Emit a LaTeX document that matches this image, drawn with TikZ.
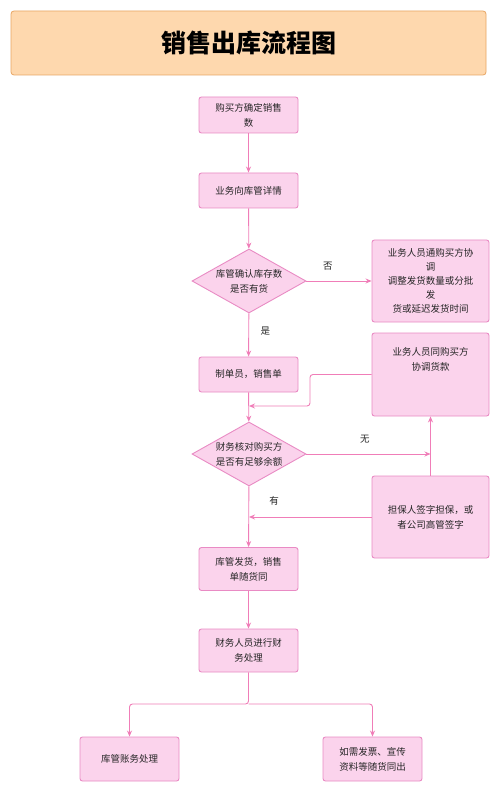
\documentclass[tikz,border=0pt]{standalone}
\usepackage{fontspec}
\setmainfont{Noto Sans CJK SC}
\usetikzlibrary{shapes.geometric,arrows.meta}
\definecolor{boxfill}{RGB}{251,211,236}
\definecolor{boxline}{RGB}{233,139,196}
\definecolor{arrowc}{RGB}{240,125,184}
\definecolor{titlefill}{RGB}{254,216,174}
\definecolor{titleline}{RGB}{232,166,100}
\tikzset{
  proc/.style={draw=boxline, fill=boxfill, line width=0.9pt, rounded corners=2.5pt,
    align=center, inner sep=0pt, font=\fontsize{9.5}{15}\selectfont, text=black!85},
  decide/.style={draw=boxline, fill=boxfill, line width=0.9pt, diamond, shape aspect=1.8,
    minimum width=114pt, minimum height=64pt, inner sep=0pt, align=center,
    font=\fontsize{9.5}{15}\selectfont, text=black!85},
  conn/.style={draw=arrowc, line width=0.9pt, -{Stealth[length=6pt,width=5pt]}},
  lbl/.style={font=\fontsize{9.5}{12}\selectfont, text=black!85}
}
\begin{document}
\begin{tikzpicture}[x=1pt,y=-1pt]
\useasboundingbox (0,0) rectangle (500,791);
\fill[white] (0,0) rectangle (500,791);
% title
\node[draw=titleline, fill=titlefill, line width=0.8pt, rounded corners=3pt,
  minimum width=475pt, minimum height=64pt, inner sep=0pt,
  font=\fontsize{25}{30}\selectfont\bfseries] (title) at (248.5,43) {销售出库流程图};
% main column
\node[proc, minimum width=99pt, minimum height=36pt] (b1) at (248.5,115) {购买方确定销售\\数};
\node[proc, minimum width=99pt, minimum height=35pt] (b2) at (248.5,190.5) {业务向库管详情};
\node[decide] (d1) at (249,281) {库管确认库存数\\是否有货};
\node[proc, minimum width=99pt, minimum height=35pt] (b3) at (248.5,374.5) {制单员，销售单};
\node[decide] (d2) at (249,454) {财务核对购买方\\是否有足够余额};
\node[proc, minimum width=99pt, minimum height=43pt] (b4) at (248.5,569) {库管发货，销售\\单随货同};
\node[proc, minimum width=99pt, minimum height=43pt] (b5) at (248.5,650.5) {财务人员进行财\\务处理};
\node[proc, minimum width=99pt, minimum height=44pt] (b6) at (129.5,759) {库管账务处理};
\node[proc, minimum width=99pt, minimum height=44pt] (b7) at (372.5,759) {如需发票、宣传\\资料等随货同出};
% right column
\node[proc, minimum width=117pt, minimum height=82pt, font=\fontsize{9.5}{14}\selectfont] (r1) at (430.5,281)
  {业务人员通购买方协\\调\\调整发货数量或分批\\发\\货或延迟发货时间};
\node[proc, minimum width=117pt, minimum height=83pt] (r2) at (430.5,374.5) {业务人员同购买方\\协调货款\\[16pt]};
\node[proc, minimum width=117pt, minimum height=82pt] (r3) at (430.5,517) {担保人签字担保，或\\者公司高管签字};
% connectors
\draw[conn] (b1) -- (b2);
\draw[conn] (b2) -- (d1);
\draw[conn] (d1) -- node[lbl, above=7pt, pos=0.33] {否} (r1);
\draw[conn] (d1) -- node[lbl, right=8pt, pos=0.4] {是} (b3);
\draw[conn] (b3) -- (d2);
\coordinate (m1) at (249,406);
\draw[conn, rounded corners=3pt] (r2.west) -- (310,374.5) -- (310,406) -- (m1);
\coordinate (m2) at (430.5,454);
\draw[conn] (d2.east) -- node[lbl, above=7pt, pos=0.47] {无} (m2);
\draw[conn] (r3) -- (r2);
\coordinate (m3) at (249,517);
\draw[conn] (r3.west) -- (m3);
\node[lbl] (lyou) at (274,501) {有};
\draw[conn] (d2) -- (b4);
\draw[conn] (b4) -- (b5);
\draw[conn, rounded corners=3pt] (b5.south) -- (248.5,704) -- (129.5,704) -- (b6.north);
\draw[conn, rounded corners=3pt] (248.5,704) -- (372.5,704) -- (b7.north);
\end{tikzpicture}
\end{document}
